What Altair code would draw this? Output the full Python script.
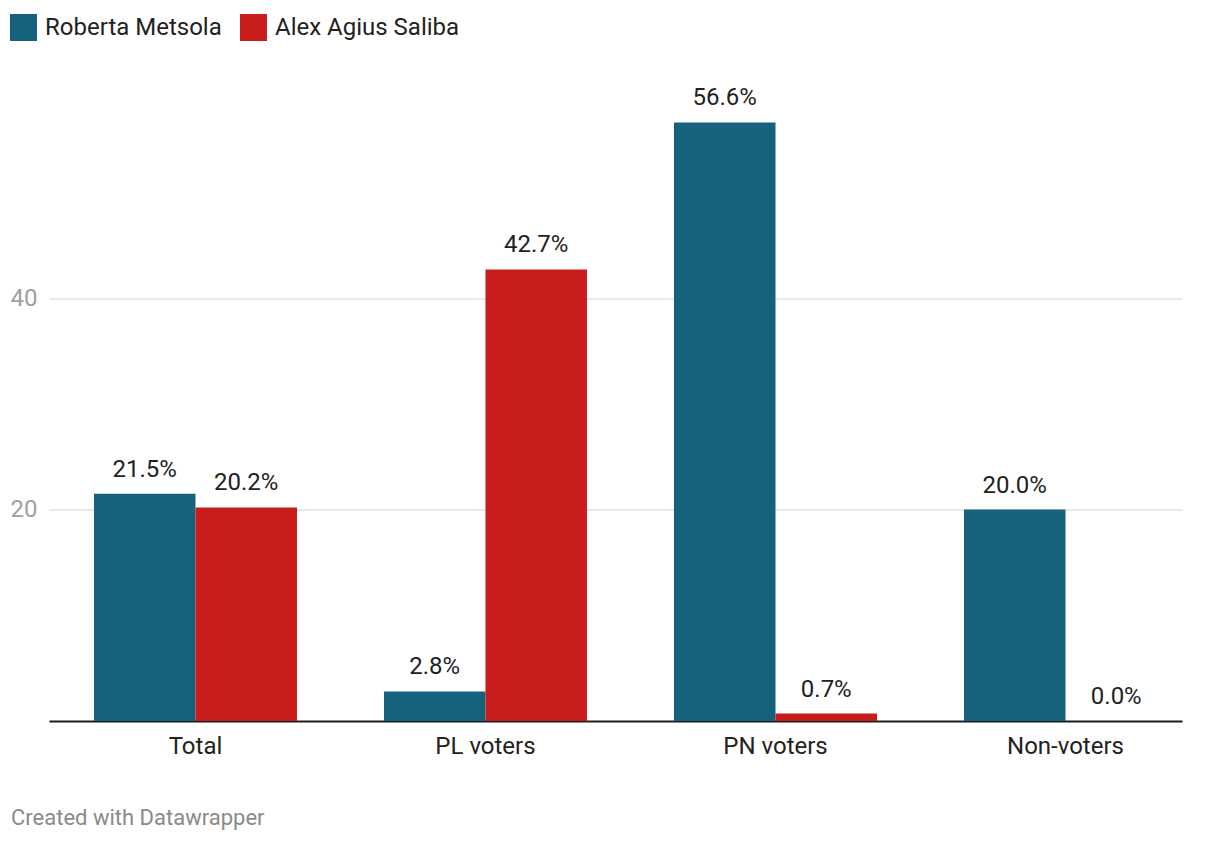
import altair as alt
import pandas as pd

categories = ["Total", "PL voters", "PN voters", "Non-voters"]
series = ["Roberta Metsola", "Alex Agius Saliba"]
metsola = [21.5, 2.8, 56.6, 20.0]
saliba = [20.2, 42.7, 0.7, 0.0]
colors = ["#16617b", "#c91d1d"]
footer = "Created with Datawrapper"

rows = []
for c, m, s in zip(categories, metsola, saliba):
    rows.append({"group": c, "series": series[0], "value": m})
    rows.append({"group": c, "series": series[1], "value": s})
df = pd.DataFrame(rows)

FONT = "Roboto"

x = alt.X("group:N", sort=categories, title=None,
          scale=alt.Scale(paddingInner=0.3, paddingOuter=0.1034, align=0.75),
          axis=alt.Axis(labelAngle=0, labelFontSize=24, labelColor="#222222",
                        labelPadding=13, ticks=False, tickSize=0, domain=True,
                        domainColor="#1d1d1d", domainWidth=2, grid=False))
xo = alt.XOffset("series:N", sort=series, scale=alt.Scale(paddingInner=0, paddingOuter=0))
y = alt.Y("value:Q", title=None, scale=alt.Scale(domain=[0, 60], nice=False),
          axis=alt.Axis(values=[20, 40], domain=False, ticks=False, tickSize=0,
                        labelFontSize=24, labelColor="#a0a0a0", labelPadding=12,
                        grid=True, gridColor="#e2e2e2", gridWidth=1.5))

base = alt.Chart(df)

bars = base.mark_bar().encode(
    x=x, xOffset=xo, y=y,
    color=alt.Color("series:N", sort=series,
                    scale=alt.Scale(domain=series, range=colors),
                    legend=alt.Legend(title=None, orient="none", legendX=-39, legendY=-72.5,
                                      direction="horizontal", symbolType="square",
                                      symbolSize=729, symbolStrokeWidth=0, symbolOpacity=1,
                                      labelFontSize=24, labelColor="#222222", labelLimit=400,
                                      labelOffset=8, columnPadding=18, labelFont=FONT)),
)

labels = base.transform_calculate(
    label="format(datum.value, '.1f') + '%'"
).mark_text(baseline="middle", dy=-24, fontSize=24, color="#222222", font=FONT).encode(
    x=alt.X("group:N", sort=categories), xOffset=alt.XOffset("series:N", sort=series),
    y=alt.Y("value:Q"), text="label:N",
)

foot = alt.Chart(pd.DataFrame({"t": [footer]})).mark_text(
    align="left", baseline="middle", fontSize=22, color="#8a8a8a", font=FONT
).encode(x=alt.value(-38), y=alt.value(731.5), text="t:N")

chart = alt.layer(bars, labels, foot).properties(
    width=1133, height=634.5,
    autosize=alt.AutoSizeParams(type="none"),
    padding={"left": 41, "top": 78.5, "right": 30, "bottom": 110},
).configure(font=FONT).configure_view(stroke=None).configure_axis(labelFont=FONT)

chart.save("out.html", embed_options={"renderer": "svg", "actions": False})
